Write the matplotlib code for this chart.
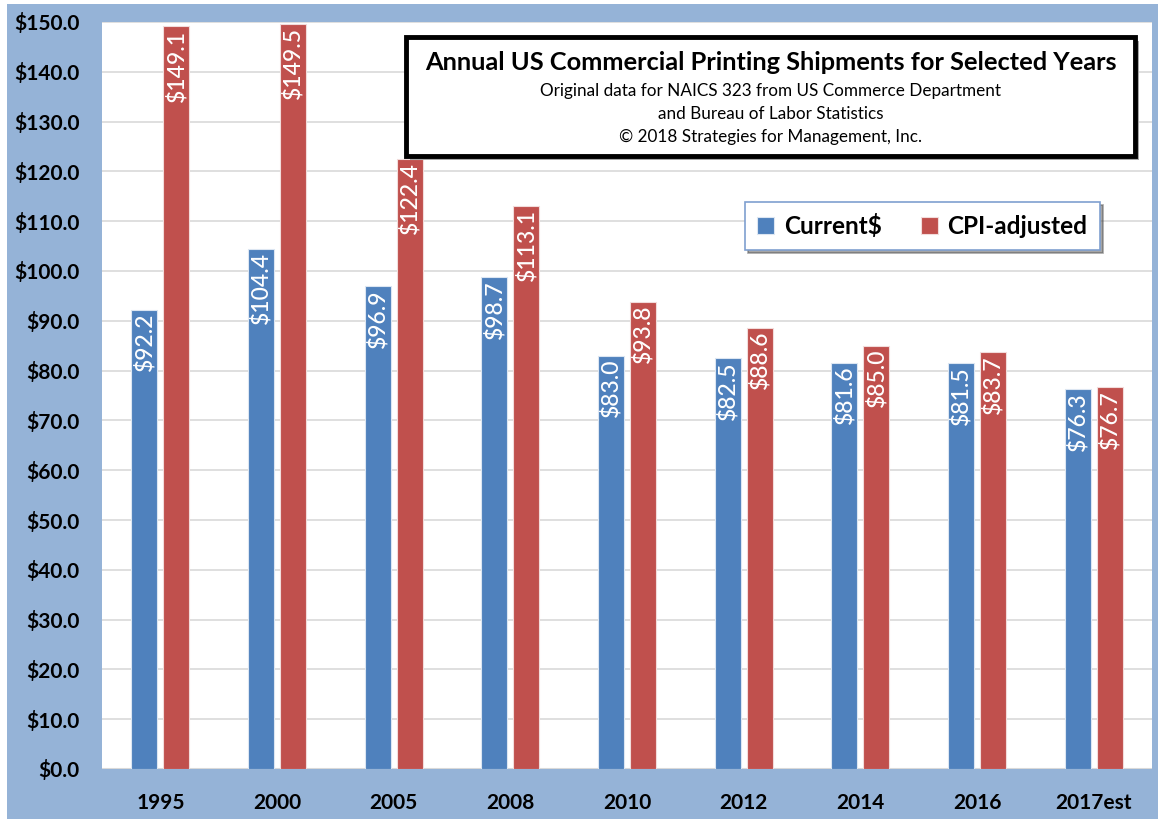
import matplotlib
matplotlib.use("Agg")
import matplotlib.pyplot as plt
import numpy as np
from matplotlib.patches import Rectangle

plt.rcParams['font.family'] = ['Lato', 'DejaVu Sans']

years = ['1995', '2000', '2005', '2008', '2010', '2012', '2014', '2016', '2017est']
current = [92.2, 104.4, 96.9, 98.7, 83.0, 82.5, 81.6, 81.5, 76.3]
cpi_adjusted = [149.1, 149.5, 122.4, 113.1, 93.8, 88.6, 85.0, 83.7, 76.7]

BLUE = '#4F81BD'
RED = '#C0504D'
PANEL = '#95B3D7'

W, H = 1158, 819
fig = plt.figure(figsize=(W / 100, H / 100), dpi=100)
fig.patch.set_facecolor('white')

# blue chart-area panel behind the plot
fig.patches.append(Rectangle((7 / W, 0), 1 - 7 / W, (H - 4) / H,
                             transform=fig.transFigure, facecolor=PANEL,
                             edgecolor='none', zorder=-10))

ax = fig.add_axes([102 / W, (H - 769) / H, (1152 - 102) / W, (769 - 22) / H])
ax.set_facecolor('white')

x = np.arange(len(years))
bw = 0.225
off = 0.137
b1 = ax.bar(x - off, current, bw, color=BLUE, edgecolor='#DCE6F2', linewidth=0.8,
            label='Current$', zorder=3)
b2 = ax.bar(x + off, cpi_adjusted, bw, color=RED, edgecolor='#F2DCDB', linewidth=0.8,
            label='CPI-adjusted', zorder=3)

for bars, vals in ((b1, current), (b2, cpi_adjusted)):
    for rect, v in zip(bars, vals):
        ax.text(rect.get_x() + rect.get_width() / 2, v - 0.6, f'${v:.1f}',
                rotation=90, ha='center', va='top', color='white',
                fontsize=16.5, fontweight='medium', zorder=4)

ax.set_ylim(0, 150)
ax.set_xlim(-0.5, len(years) - 0.5)
ax.set_yticks(np.arange(0, 151, 10))
ax.set_yticklabels([f'${t:.1f}' for t in np.arange(0, 151, 10)],
                   fontsize=15, fontweight='bold')
ax.set_xticks(x)
ax.set_xticklabels(years, fontsize=15, fontweight='bold')
ax.tick_params(length=0, pad=16, axis='y')
ax.tick_params(length=0, pad=17, axis='x')
ax.grid(axis='y', color='#D9D9D9', linewidth=1.2, zorder=0)
for s in ax.spines.values():
    s.set_visible(False)
ax.axhline(0, color='#D9D9D9', linewidth=1.5, zorder=2)

# title box
bx0, by0, bx1, by1 = 406, 37, 1135, 156
fig.patches.append(Rectangle(((bx0 + 4) / W, (H - by1 - 4) / H), (bx1 - bx0) / W, (by1 - by0) / H,
                             transform=fig.transFigure, facecolor='#A6A6A6',
                             edgecolor='none', zorder=5))
fig.patches.append(Rectangle((bx0 / W, (H - by1) / H), (bx1 - bx0) / W, (by1 - by0) / H,
                             transform=fig.transFigure, facecolor='white',
                             edgecolor='black', linewidth=3.5, zorder=6))
cx = (bx0 + bx1) / 2 / W
fig.text(cx, (H - 62) / H, 'Annual US Commercial Printing Shipments for Selected Years',
         ha='center', va='center', fontsize=18.3, fontweight='bold', zorder=7)
subs = ['Original data for NAICS 323 from US Commerce Department',
        'and Bureau of Labor Statistics',
        '\u00a9 2018 Strategies for Management, Inc.']
for yy, s in zip((91, 114, 137), subs):
    fig.text(cx, (H - yy) / H, s, ha='center', va='center', fontsize=12.3, zorder=7)

leg = ax.legend(loc='center', bbox_to_anchor=((740 + 1105) / 2 / W, (H - 226) / H),
                bbox_transform=fig.transFigure, ncol=2, frameon=True, fancybox=False,
                shadow=True, prop={'size': 17.5, 'weight': 'bold'},
                handlelength=0.7, handleheight=0.7, handletextpad=0.4,
                columnspacing=1.6, borderpad=0.5, borderaxespad=0)
leg.get_frame().set_edgecolor('#7F9FCF')
leg.get_frame().set_linewidth(1.2)
leg.set_zorder(8)

fig.savefig('out.png', dpi=100, facecolor=fig.get_facecolor())
